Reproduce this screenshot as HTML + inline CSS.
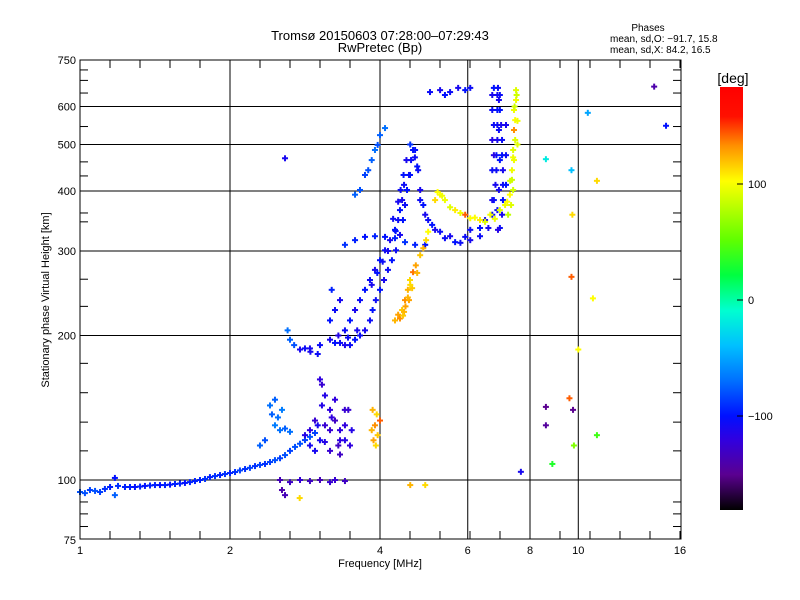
<!DOCTYPE html>
<html><head><meta charset="utf-8"><title>Ionogram</title>
<style>
html,body{margin:0;padding:0;background:#fff;}
svg{display:block;font-family:"Liberation Sans",sans-serif;}
</style></head>
<body>
<svg id="chart" width="800" height="600" viewBox="0 0 800 600" xmlns="http://www.w3.org/2000/svg">
<defs>
<linearGradient id="cbar" x1="0" y1="1" x2="0" y2="0">
<stop offset="0" stop-color="#000000"/>
<stop offset="0.0833" stop-color="#5a0090"/>
<stop offset="0.1667" stop-color="#3000e0"/>
<stop offset="0.2222" stop-color="#0010ff"/>
<stop offset="0.3056" stop-color="#0070ff"/>
<stop offset="0.3889" stop-color="#00c0ff"/>
<stop offset="0.4722" stop-color="#00ffd0"/>
<stop offset="0.5556" stop-color="#00ff40"/>
<stop offset="0.6389" stop-color="#60ff00"/>
<stop offset="0.75" stop-color="#e0ff00"/>
<stop offset="0.7778" stop-color="#ffff00"/>
<stop offset="0.8611" stop-color="#ff9000"/>
<stop offset="0.9306" stop-color="#ff1000"/>
<stop offset="1" stop-color="#ff0000"/>
</linearGradient>
</defs>
<text x="380" y="40" text-anchor="middle" font-size="13">Tromsø 20150603 07:28:00–07:29:43</text>
<text x="380" y="52" text-anchor="middle" font-size="13">RwPretec (Bp)</text>
<text x="648" y="31" text-anchor="middle" font-size="10">Phases</text>
<text x="610" y="42" font-size="10">mean, sd,O: −91.7, 15.8</text>
<text x="610" y="53" font-size="10">mean, sd,X:  84.2, 16.5</text>
<g id="grid"></g>
<g id="ticks"></g>
<g id="marks"></g>
<rect x="80" y="60" width="601" height="479" fill="none" stroke="#000" stroke-width="1"/>
<g id="labels" font-size="11"></g>
<text x="380" y="567" text-anchor="middle" font-size="11">Frequency [MHz]</text>
<text transform="translate(49,300) rotate(-90)" text-anchor="middle" font-size="11">Stationary phase Virtual Height [km]</text>
<rect x="720" y="87" width="23" height="423" fill="url(#cbar)"/>
<text x="733" y="83" text-anchor="middle" font-size="14">[deg]</text>
<g id="cbticks" font-size="11"></g>
</svg>
<script>
// ---- data ----
const xTicks = [1, 2, 4, 6, 8, 10, 16];
const yTicks = [75, 100, 200, 300, 400, 500, 600, 750];
const yGrid = [100, 200, 300, 400, 500, 600];
const xGrid = [2, 4, 6, 8, 10];
const cbTicks = [100, 0, -100];

// E-layer trace
const eFreq = [1.0,1.023,1.047,1.072,1.097,1.122,1.149,1.175,1.175,1.192,1.231,1.26,1.289,1.32,1.350,1.382,1.414,1.447,1.481,1.516,1.551,1.587,1.624,1.662,1.701,1.741,1.782,1.823,1.866,1.91,1.954,2.0,2.047,2.094,2.144,2.193,2.245,2.297,2.351,2.406,2.462,2.52,2.579,2.639,2.701,2.764,2.828,2.894,2.962];
const eHeight = [94.4,93.9,95.3,94.9,94.4,95.8,96.7,101,93.0,97.2,96.7,96.7,96.7,96.9,97.2,97.4,97.6,97.6,97.6,97.8,98.1,98.3,98.6,99,99.5,100,100.5,101.4,101.9,102.4,102.9,103.4,103.9,104.7,105.4,106,106.9,107.5,108,109,110,111,112.7,115,117.2,119,121.1,123,125.3];
const ePhase = [-80,-80,-85,-80,-85,-90,-95,-100,-75,-90,-95,-95,-100,-95,-100,-95,-95,-100,-95,-100,-95,-95,-100,-95,-95,-95,-90,-95,-90,-95,-90,-95,-90,-85,-90,-85,-90,-85,-90,-85,-80,-85,-80,-85,-80,-80,-85,-80,-85];

// sporadic / multi-hop scatter
const sFreq = [3.031,3.059,3.102,3.175,3.249,3.325,3.402,2.962,2.894,3.031,3.175,3.325,3.482,3.51,3.455,3.249,3.102,2.962,2.828,3.402,3.299,3.059,3.175,3.325,2.894,3.2,3.1,3.4,3.0,
 2.406,2.428,2.462,2.52,2.579,2.639,2.351,2.297,2.496,2.543,2.462,
 2.52,2.639,2.764,2.894,3.031,3.175,3.402,2.543,2.579,3.249,
 3.866,3.94,3.908,3.957,3.882,4.0,3.924,3.85];
const sHeight = [162,158,150,140,133,127,121,133,127,121,115,113,118,127,140,147,130,115,124,130,118,143,127,121,118,135,120,140,130,
 143,137,130,127,128,126,121,118,135,140,147,
 100,99,100,99.5,100,99,99.5,95.3,93.0,100,
 140,137,130,124,121,133,118,127];
const sPhase = [-120,-125,-115,-120,-130,-120,-115,-125,-120,-110,-125,-130,-120,-115,-125,-120,-125,-110,-115,-120,-130,-115,-125,-120,-110,-120,-115,-125,-110,
 -70,-75,-65,-70,-75,-70,-80,-75,-70,-65,-75,
 -135,-130,-125,-130,-135,-125,-130,-140,-135,-125,
 120,110,130,115,125,140,110,120];

// F1 ordinary trace
const f1Freq = [2.764,2.828,2.894,3.031,3.175,3.249,3.325,3.402,3.482,3.564,3.647,3.732,3.819,3.866,3.924,4.0,4.075,4.15,4.227,4.307,4.387,4.448,4.49,4.532,4.573,4.617,4.66,
 3.175,3.249,3.325,3.2,3.402,3.482,3.564,3.647,3.732,3.819,3.908,4.0,4.094,4.19,4.287,4.35,4.387,4.43,4.47,
 4.704,4.771,4.816,4.886,4.997,5.16,5.40,5.66,5.80,6.07,6.35,4.595,4.816,4.929,5.09,5.28,5.53,5.93,
 3.402,3.564,3.732,3.908,4.094,4.287,4.49,4.704,4.929,2.61,2.639,2.69,2.9,3.0,
 4.40,4.46,4.52,4.60,4.70,4.75,4.35,4.25,4.30,4.15,4.05,3.95,3.85,3.3,3.45,3.6];
const f1Height = [187,188,188,191,196,193,193,191,191,196,200,205,215,226,237,249,261,274,287,301,324,348,374,402,432,464,487,
 215,226,237,249,205,215,226,237,249,261,274,287,301,316,332,348,365,383,412,
 487,442,402,374,348,332,319,313,312,316,322,432,383,357,340,329,322,321,
 309,316,321,322,321,319,313,309,309,205,196,191,185,183,
 402,432,464,500,470,450,380,350,330,300,285,270,255,200,198,205];
const f1Phase = [-110,-105,-110,-105,-110,-100,-105,-110,-105,-100,-105,-110,-105,-100,-105,-100,-110,-105,-100,-105,-110,-100,-105,-100,-110,-105,-100,
 -100,-105,-110,-95,-105,-100,-110,-105,-100,-105,-110,-100,-105,-110,-100,-105,-100,-110,-105,
 -100,-105,-110,-100,-105,-110,-105,-100,-105,-110,-105,-100,-105,-110,-100,-105,-110,-105,
 -90,-95,-100,-95,-100,-95,-90,-95,-100,-70,-75,-80,-110,-105,
 -105,-100,-110,-90,-105,-100,-110,-105,-100,-110,-105,-100,-110,-115,-105,-110];

// hook and top fragments
const hFreq = [3.564,3.647,3.732,3.788,3.85,3.908,3.957,4.0,4.094,5.04,5.28,5.40,5.53,5.74,5.93,6.07];
const hHeight = [393,402,432,442,464,487,499,523,541,643,649,634,643,656,649,656];
const hPhase = [-75,-80,-85,-80,-75,-70,-80,-75,-70,-105,-110,-100,-105,-110,-100,-105];

// F2 ordinary trace
const f2Freq = [6.6,6.72,6.77,6.82,6.85,6.85,6.88,6.88,6.88,6.88,6.9,
 6.96,7.03,7.06,7.06,7.06,7.03,7.03,7.0,6.96,6.96,
 6.9,6.88,6.93,6.96,6.93,6.93,6.07,6.35,6.5,
 6.72,6.72,6.72,6.72,6.72,7.16,7.16,7.16,6.77,6.77,6.77];
const f2Height = [335,357,383,412,442,475,511,549,590,634,656,
 335,357,383,412,442,475,511,549,590,634,
 332,365,402,464,536,619,332,335,348,
 383,442,511,590,634,412,475,549,475,549,656];
const f2Phase = [-110,-105,-100,-110,-105,-100,-110,-105,-100,-110,-105,
 -105,-110,-100,-105,-110,-100,-105,-110,-100,-105,
 -115,-105,-110,-100,-105,-110,-105,-100,-110,
 -110,-105,-115,-105,-110,-100,-105,-110,-115,-105,-100];

// X-mode traces
const xFreq = [5.28,5.40,5.53,5.80,6.07,6.35,6.66,6.96,7.13,7.29,7.36,7.43,7.47,7.47,7.50,7.50,
 7.23,7.33,7.40,7.36,7.40,7.43,7.43,7.52,5.16,5.22,5.33,5.66,5.93,
 4.287,4.35,4.43,4.49,4.55,4.595,4.66,4.72,4.816,4.886,4.95,4.997,4.387,4.47,4.573,4.64,
 7.55,7.55,7.3,7.2,6.8,6.5,6.2,7.45,7.4,4.55,4.5,4.45,4.6,4.75];
const xHeight = [393,383,370,360,351,348,357,365,374,393,422,464,511,562,619,649,
 357,374,402,442,487,536,590,634,383,398,391,365,357,
 215,221,226,237,249,261,271,280,294,304,316,329,217,224,237,251,
 500,560,420,380,350,345,352,600,470,240,230,220,255,270];
const xPhase = [100,95,90,95,100,105,95,90,95,100,85,95,90,100,95,90,
 80,90,85,95,90,130,95,85,110,100,95,105,140,
 120,125,115,130,120,110,135,125,115,120,110,100,130,120,125,115,
 90,95,85,100,95,90,100,85,95,120,125,115,110,120];

// isolated points
const iFreq = [2.579,9.76,8.61,8.61,9.80,8.87,9.6,9.69,9.73,9.69,8.61,10.45,10.9,10.7,10.9,14.2,15.0,10.0,7.67,4.6,4.93,2.76];
const iHeight = [468,140,142,130,118,108,148,265,357,442,466,582,420,239,124,660,547,187,104,97.6,97.6,91.7];
const iPhase = [-110,-150,-150,-145,60,30,140,140,110,-40,-20,-50,110,100,40,-140,-100,100,-110,120,110,110];

// ---- scales ----
const X0 = 80, X1 = 681, Y0 = 539, Y1 = 60;
function xs(f){ return 80 + Math.log2(f) * 150; }
function ys(h){ return 480 - Math.log10(h / 100) * 480; }
const NS = 'http://www.w3.org/2000/svg';
function mk(tag, parent, attrs){
  const e = document.createElementNS(NS, tag);
  for (const k in attrs) e.setAttribute(k, attrs[k]);
  parent.appendChild(e);
  return e;
}
const stops = [[-180,[0,0,0]],[-150,[90,0,144]],[-120,[48,0,224]],[-100,[0,16,255]],[-70,[0,112,255]],[-40,[0,192,255]],[-10,[0,255,208]],[20,[0,255,64]],[50,[96,255,0]],[90,[224,255,0]],[100,[255,255,0]],[130,[255,144,0]],[155,[255,16,0]],[180,[255,0,0]]];
function col(p){
  p = Math.max(-180, Math.min(180, p));
  for (let i = 0; i < stops.length - 1; i++){
    const a = stops[i], b = stops[i+1];
    if (p <= b[0]){
      const t = (p - a[0]) / (b[0] - a[0]);
      const c = a[1].map((v, j) => Math.round(v + (b[1][j] - v) * t));
      return 'rgb(' + c.join(',') + ')';
    }
  }
  return 'rgb(255,0,0)';
}

// grid
const grid = document.getElementById('grid');
xGrid.forEach(f => {
  const l = mk('line', grid, {x1: xs(f), x2: xs(f), y1: Y1, y2: Y0, stroke: '#000', 'stroke-width': 1});
  
  
});
yGrid.forEach(h => {
  const l = mk('line', grid, {x1: X0, x2: X1, y1: ys(h), y2: ys(h), stroke: '#000', 'stroke-width': 1});
  
  
});

// minor ticks
const ticks = document.getElementById('ticks');
for (let x = X0 + 30; x < X1; x += 30){
  [[Y0, Y0 - 8], [Y1, Y1 + 8]].forEach(p => {
    const t = mk('line', ticks, {x1: x, x2: x, y1: p[0], y2: p[1], stroke: '#000'});
    
    
  });
}
const yMinor = [90, 85, 80, 115, 132, 152, 175, 230, 262, 345, 360, 430, 460, 545, 640, 680, 715];
yMinor.forEach(h => {
  [[X0, X0 + 8], [X1, X1 - 8]].forEach(p => {
    const t = mk('line', ticks, {x1: p[0], x2: p[1], y1: ys(h), y2: ys(h), stroke: '#000'});
    
    
  });
});

// labels
const labels = document.getElementById('labels');
xTicks.forEach(f => {
  const t = mk('text', labels, {x: xs(f), y: 554, 'text-anchor': 'middle'});
  t.textContent = f;
  
  
});
yTicks.forEach(h => {
  const t = mk('text', labels, {x: 76, y: ys(h) + 4, 'text-anchor': 'end'});
  t.textContent = h;
  
  
});

// colorbar ticks
const cbt = document.getElementById('cbticks');
cbTicks.forEach(v => {
  const y = 300 - v * 1.16;
  const l = mk('line', cbt, {x1: 737, x2: 743, y1: y, y2: y, stroke: '#000'});
  
  
  const t = mk('text', cbt, {x: 748, y: y + 4});
  t.textContent = v === -100 ? '−100' : String(v);
  
  
});

// marks
const marks = document.getElementById('marks');
function plot(F, H, P, name){
  for (let i = 0; i < F.length; i++){
    const x = xs(F[i]), y = ys(H[i]), c = col(P[i]);
    const g = mk('g', marks, {fill: c});
    
    
    mk('rect', g, {x: x - 3, y: y - 1, width: 6, height: 2});
    mk('rect', g, {x: x - 1, y: y - 3, width: 2, height: 6});
  }
}
plot(eFreq, eHeight, ePhase, 'e-trace-point');
plot(sFreq, sHeight, sPhase, 'scatter-point');
plot(f1Freq, f1Height, f1Phase, 'f1-o-point');
plot(hFreq, hHeight, hPhase, 'hook-point');
plot(f2Freq, f2Height, f2Phase, 'f2-o-point');
plot(xFreq, xHeight, xPhase, 'x-mode-point');
plot(iFreq, iHeight, iPhase, 'isolated-point');
</script>
</body></html>
